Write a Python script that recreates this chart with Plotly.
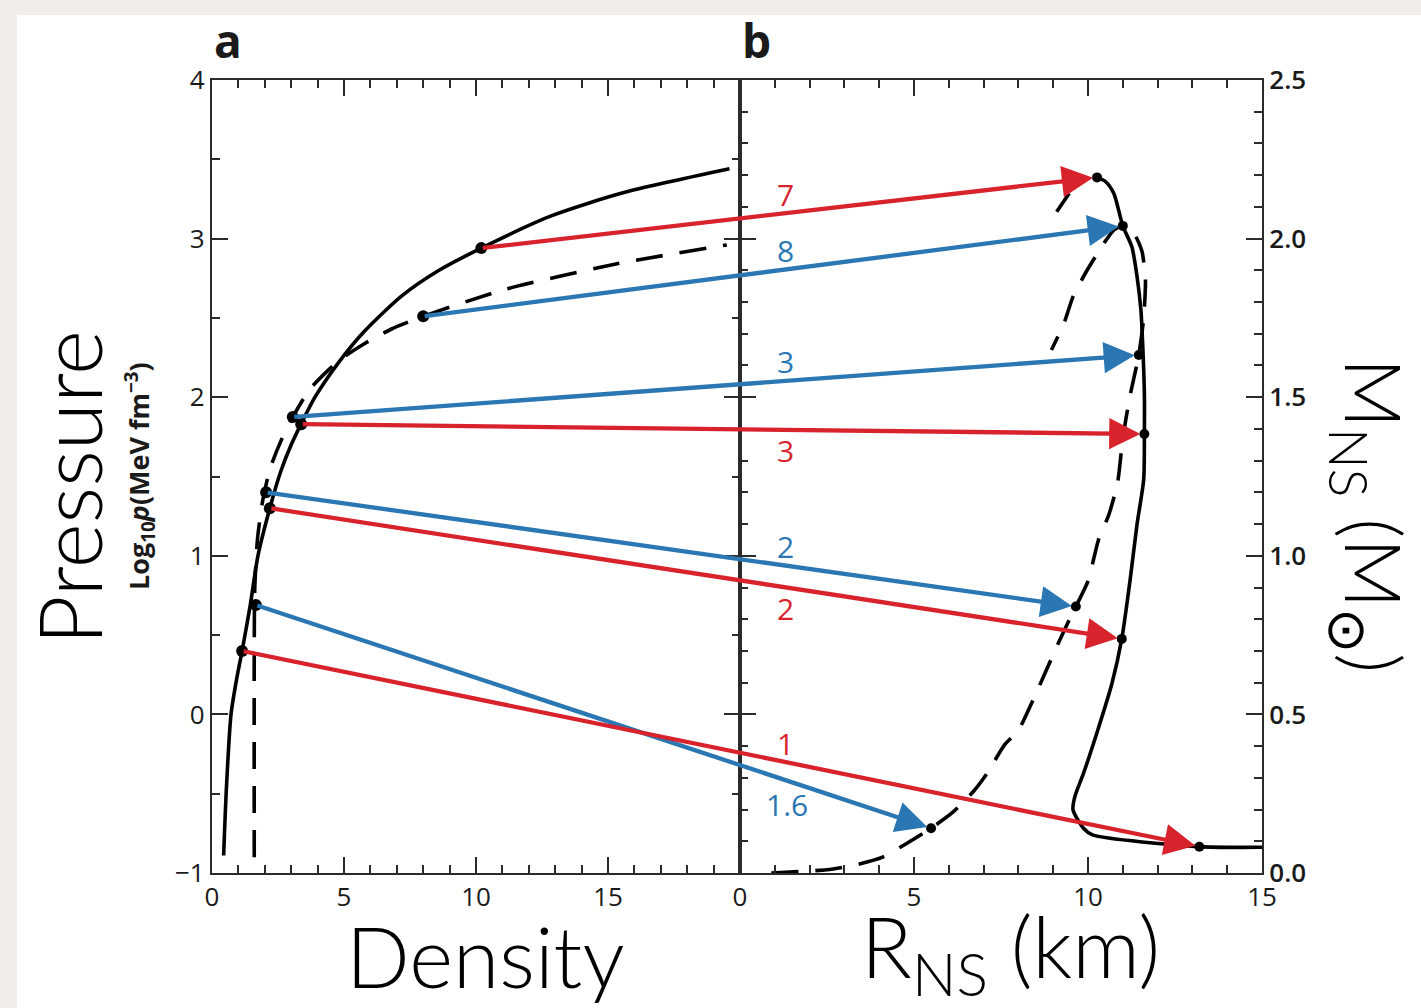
import plotly.graph_objects as go

# ---------------- data ----------------
# Panel a: equation of state, log10 pressure vs density
eos_solid_density = [0.44, 0.55, 0.72, 0.93, 1.14, 1.45, 1.74, 2.19, 2.6, 3.0, 3.4, 3.9,
                     4.8, 5.8, 7.2, 8.6, 10.2, 12.8, 15.6, 19.6]
eos_solid_logp = [-0.89, -0.45, 0.0, 0.22, 0.40, 0.69, 1.0, 1.30, 1.53, 1.70, 1.84, 2.00,
                  2.22, 2.42, 2.64, 2.80, 2.94, 3.14, 3.29, 3.44]
eos_dashed_density = [1.6, 1.6, 1.62, 1.72, 1.9, 2.2, 2.6, 3.06, 3.7, 4.8, 5.8, 6.8, 8.0,
                      11.1, 15.3, 19.5]
eos_dashed_logp = [-0.9, 0.4, 0.8, 1.1, 1.33, 1.55, 1.72, 1.875, 2.05, 2.23, 2.34, 2.43,
                   2.51, 2.68, 2.84, 2.96]

# Panel b: mass-radius relation
mr_solid_radius = [15.0, 13.2, 10.13, 9.87, 9.57, 9.62, 9.87, 10.28, 10.69, 10.97, 11.21,
                   11.41, 11.6, 11.62, 11.62, 11.57, 11.52, 11.41, 11.26, 11.0, 10.74, 10.5,
                   10.26]
mr_solid_mass = [0.081, 0.083, 0.12, 0.141, 0.199, 0.24, 0.314, 0.45, 0.598, 0.738, 0.924,
                 1.10, 1.24, 1.384, 1.51, 1.67, 1.775, 1.88, 1.974, 2.04, 2.143, 2.18, 2.193]
mr_dashed_radius = [0.9, 1.7, 2.5, 3.3, 4.1, 4.8, 5.49, 6.1, 6.7, 7.1, 7.6, 8.0, 8.44, 9.1,
                    9.46, 9.65, 10.0, 10.3, 10.6, 10.85, 11.0, 11.2, 11.46, 11.6, 11.65,
                    11.55, 11.3, 11.0, 10.74, 10.39, 9.92, 9.57, 9.31, 8.95]
mr_dashed_mass = [0.0, 0.005, 0.01, 0.025, 0.05, 0.094, 0.141, 0.19, 0.256, 0.314, 0.404,
                  0.45, 0.55, 0.713, 0.798, 0.84, 0.92, 1.05, 1.13, 1.23, 1.37, 1.50, 1.633,
                  1.75, 1.87, 1.96, 2.02, 2.04, 2.027, 1.974, 1.89, 1.817, 1.733, 1.649]
mr_extra_dash_radius = [9.1, 9.46]
mr_extra_dash_mass = [2.085, 2.143]

# Arrows: from a point on the EOS (panel a) to the star it produces (panel b)
arrow_labels = ["7", "8", "3", "3", "2", "2", "1.6", "1"]
arrow_series = ["red", "blue", "blue", "red", "blue", "red", "blue", "red"]
arrow_start_density = [10.2, 8.0, 3.06, 3.38, 2.05, 2.19, 1.66, 1.14]
arrow_start_logp = [2.94, 2.51, 1.875, 1.83, 1.40, 1.30, 0.69, 0.40]
arrow_end_radius = [10.26, 11.0, 11.46, 11.62, 9.65, 10.97, 5.49, 13.2]
arrow_end_mass = [2.193, 2.04, 1.633, 1.384, 0.84, 0.738, 0.141, 0.083]

left_x_ticks = [0, 5, 10, 15]
right_x_ticks = [0, 5, 10, 15]
left_y_ticks = [-1, 0, 1, 2, 3, 4]
right_y_ticks = [0.0, 0.5, 1.0, 1.5, 2.0, 2.5]

# ---------------- style / layout ----------------
W, H = 1421, 1008
COLORS = {"red": "#d8232d", "blue": "#2a77b3"}
LABEL_SIDE = ["up", "up", "up", "down", "up", "down", "down", "up"]
AXC = "#2b2b2b"
TXT = "#1a1a1a"

XL = (0.0, 20.0)
YL = (-1.0, 4.0)
XR = (0.0, 15.0)
YR = (0.0, 2.5)

dom_left = [212 / W, 740 / W]
dom_right = [740 / W, 1262 / W]
dom_y = [(H - 873) / H, (H - 80) / H]
wL = dom_left[1] - dom_left[0]
wR = dom_right[1] - dom_right[0]


def left_to_right_x(d):
    # density coordinate expressed on panel b's radius axis (shared border at d=20 / R=0)
    return (d - XL[1]) / (XL[1] - XL[0]) * (wL / wR) * (XR[1] - XR[0]) + XR[0]


def left_to_right_y(p):
    return YR[0] + (p - YL[0]) / (YL[1] - YL[0]) * (YR[1] - YR[0])


fig = go.Figure()

line_style = dict(color="black", width=3.6, shape="spline", smoothing=0.7)
dash_style = dict(color="black", width=3.6, dash="27px,17px", shape="spline", smoothing=0.6)

fig.add_trace(go.Scatter(x=eos_solid_density, y=eos_solid_logp, mode="lines",
                         line=line_style, xaxis="x", yaxis="y", hoverinfo="skip"))
fig.add_trace(go.Scatter(x=eos_dashed_density, y=eos_dashed_logp, mode="lines",
                         line=dash_style, xaxis="x", yaxis="y", hoverinfo="skip"))
fig.add_trace(go.Scatter(x=mr_solid_radius, y=mr_solid_mass, mode="lines",
                         line=line_style, xaxis="x2", yaxis="y2", hoverinfo="skip"))
fig.add_trace(go.Scatter(x=mr_dashed_radius, y=mr_dashed_mass, mode="lines",
                         line=dash_style, xaxis="x2", yaxis="y2", hoverinfo="skip"))
fig.add_trace(go.Scatter(x=mr_extra_dash_radius, y=mr_extra_dash_mass, mode="lines",
                         line=dict(color="black", width=3.6), xaxis="x2", yaxis="y2",
                         hoverinfo="skip"))

fig.add_trace(go.Scatter(x=arrow_start_density, y=arrow_start_logp, mode="markers",
                         marker=dict(color="black", size=12), xaxis="x", yaxis="y",
                         cliponaxis=False, hoverinfo="skip"))
fig.add_trace(go.Scatter(x=arrow_end_radius, y=arrow_end_mass, mode="markers",
                         marker=dict(color="black", size=10), xaxis="x2", yaxis="y2",
                         cliponaxis=False, hoverinfo="skip"))

annotations = []
LABEL_R = 1.3
for lab, ser, d, p, r, m, side in zip(arrow_labels, arrow_series, arrow_start_density,
                                      arrow_start_logp, arrow_end_radius, arrow_end_mass,
                                      LABEL_SIDE):
    ax_ = left_to_right_x(d)
    ay_ = left_to_right_y(p)
    col = COLORS[ser]
    annotations.append(dict(
        x=r, y=m, xref="x2", yref="y2", ax=ax_, ay=ay_, axref="x2", ayref="y2",
        text="", showarrow=True, arrowhead=2, arrowsize=1.45, arrowwidth=4.3,
        arrowcolor=col, standoff=4))
    t = (LABEL_R - ax_) / (r - ax_)
    ym = ay_ + t * (m - ay_)
    shift = 19 if side == "up" else -21
    if lab == "1.6":
        shift = -24
    annotations.append(dict(
        x=LABEL_R, y=ym, xref="x2", yref="y2", text=lab, showarrow=False,
        yshift=shift, xshift=2 if lab == "1.6" else 0,
        font=dict(family="Open Sans", size=30, color=col)))

title_font = dict(family="Lato", size=84, color="black", weight=300)
annotations += [
    dict(x=485 / W, y=1 - 955 / H, xref="paper", yref="paper", text="Density",
         showarrow=False, font=title_font, xanchor="center", yanchor="middle"),
    dict(x=1010 / W, y=1 - 952 / H, xref="paper", yref="paper",
         text="R<sub>NS</sub> (km)", showarrow=False, font=title_font,
         xanchor="center", yanchor="middle"),
    dict(x=68 / W, y=1 - 488 / H, xref="paper", yref="paper", text="Pressure",
         showarrow=False, font=dict(family="Lato", size=86, color="black", weight=300),
         textangle=-90, xanchor="center", yanchor="middle"),
    dict(x=139 / W, y=1 - 476 / H, xref="paper", yref="paper",
         text="<b>Log<sub>10</sub><i>p</i>(MeV fm<sup>−3</sup>)</b>", showarrow=False,
         font=dict(family="Open Sans", size=27, color=TXT), textangle=-90,
         xanchor="center", yanchor="middle"),
    dict(x=1370 / W, y=1 - 515 / H, xref="paper", yref="paper",
         text="M<sub>NS</sub> (M<sub>⊙</sub>)", showarrow=False,
         font=dict(family="Lato", size=77, color="black", weight=300),
         textangle=90, xanchor="center", yanchor="middle"),
    dict(x=228 / W, y=1 - 40 / H, xref="paper", yref="paper", text="<b>a</b>",
         showarrow=False, font=dict(family="Open Sans", size=46, color=TXT),
         xanchor="center", yanchor="middle"),
    dict(x=757 / W, y=1 - 40 / H, xref="paper", yref="paper", text="<b>b</b>",
         showarrow=False, font=dict(family="Open Sans", size=46, color=TXT),
         xanchor="center", yanchor="middle"),
]

tick_font = dict(family="Open Sans", size=26, color=TXT)
common_axis = dict(showline=True, linecolor=AXC, linewidth=2.2, showgrid=False,
                   zeroline=False, ticks="inside", ticklen=16, tickwidth=2.2,
                   tickcolor=AXC, mirror="ticks", tickfont=tick_font, automargin=False)

fig.update_layout(
    width=W, height=H,
    margin=dict(l=0, r=0, t=0, b=0, pad=0, autoexpand=False),
    paper_bgcolor="#f1eee9",
    plot_bgcolor="white",
    showlegend=False,
    xaxis=dict(domain=dom_left, range=list(XL), tickvals=left_x_ticks,
               minor=dict(dtick=1, ticklen=8, tickwidth=2, tickcolor=AXC, ticks="inside"),
               anchor="y", **common_axis),
    yaxis=dict(domain=dom_y, range=list(YL), tickvals=left_y_ticks,
               ticktext=[str(v).replace("-", "−") for v in left_y_ticks],
               minor=dict(dtick=0.5, ticklen=8, tickwidth=2, tickcolor=AXC, ticks="inside"),
               anchor="x", **common_axis),
    xaxis2=dict(domain=dom_right, range=list(XR), tickvals=right_x_ticks,
                minor=dict(dtick=1, ticklen=8, tickwidth=2, tickcolor=AXC, ticks="inside"),
                anchor="y2", **common_axis),
    yaxis2=dict(domain=dom_y, range=list(YR), tickvals=right_y_ticks,
                ticktext=[f"{v:.1f}" for v in right_y_ticks], side="right",
                minor=dict(dtick=0.1, ticklen=8, tickwidth=2, tickcolor=AXC, ticks="inside"),
                anchor="x2", **{**common_axis,
                                "tickfont": dict(family="Open Sans", size=26, color=TXT,
                                                 weight=600)}),
    shapes=[dict(type="rect", xref="paper", yref="paper", x0=17 / W, x1=1.0,
                 y0=0.0, y1=1 - 15 / H, fillcolor="white", line=dict(width=0),
                 layer="below")],
    annotations=annotations,
)

fig.write_html("out.html")
